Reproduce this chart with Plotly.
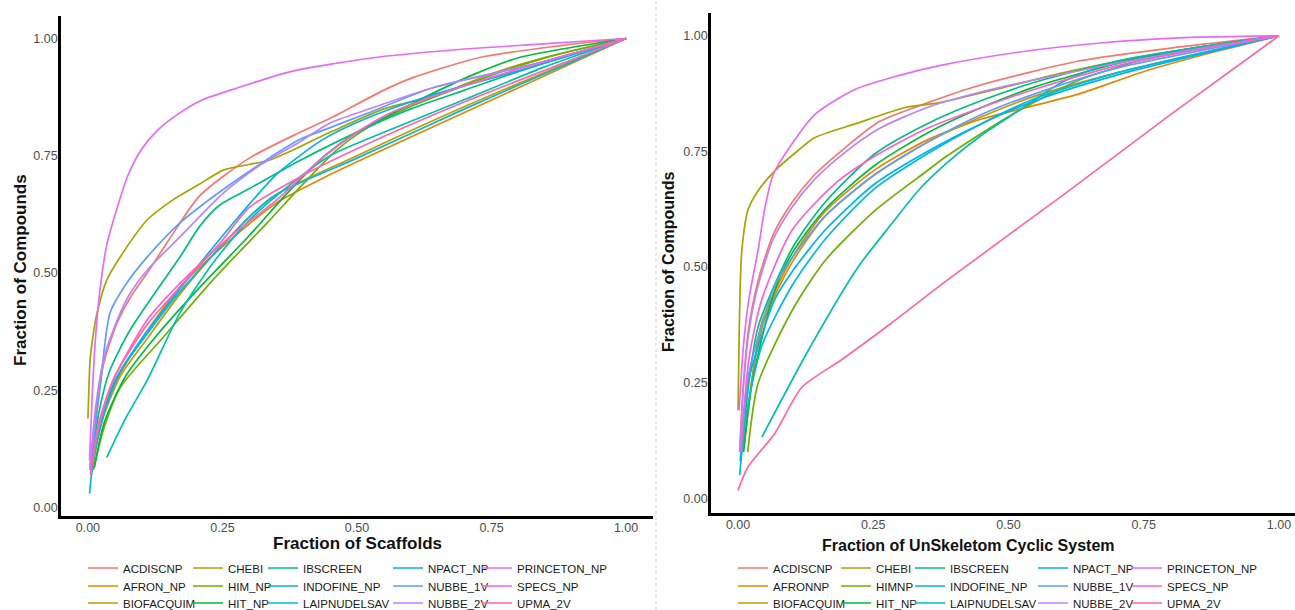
import plotly.graph_objects as go

# ---------------- series names / colours ----------------
names_left = ["ACDISCNP", "AFRON_NP", "BIOFACQUIM", "CHEBI", "HIM_NP", "HIT_NP",
              "IBSCREEN", "INDOFINE_NP", "LAIPNUDELSAV", "NPACT_NP", "NUBBE_1V",
              "NUBBE_2V", "PRINCETON_NP", "SPECS_NP", "UPMA_2V"]
names_right = ["ACDISCNP", "AFRONNP", "BIOFACQUIM", "CHEBI", "HIMNP", "HIT_NP",
               "IBSCREEN", "INDOFINE_NP", "LAIPNUDELSAV", "NPACT_NP", "NUBBE_1V",
               "NUBBE_2V", "PRINCETON_NP", "SPECS_NP", "UPMA_2V"]
colors = ["#F8766D", "#E58700", "#C99800", "#A3A500", "#6BB100", "#00BA38",
          "#00BF7D", "#00C0AF", "#00BCD8", "#00B0F6", "#619CFF", "#B983FF",
          "#E76BF3", "#FD61D1", "#FF67A4"]

tick_vals = [0, 0.25, 0.5, 0.75, 1.0]
tick_text = ["0.00", "0.25", "0.50", "0.75", "1.00"]

# ---------------- left panel: Fraction of Scaffolds ----------------
scaf_ACDISCNP = [(0.004, 0.08), (0.015, 0.2), (0.03, 0.31), (0.054, 0.393), (0.08, 0.45), (0.11, 0.5),
                 (0.15, 0.57), (0.208, 0.665), (0.3, 0.745), (0.394, 0.8), (0.45, 0.83), (0.55, 0.89),
                 (0.6, 0.915), (0.73, 0.96), (0.88, 0.985), (1.0, 1.0)]
scaf_AFRON_NP = [(0.006, 0.07), (0.02, 0.16), (0.047, 0.257), (0.1, 0.36), (0.171, 0.47), (0.264, 0.57),
                 (0.351, 0.65), (0.45, 0.71), (0.6, 0.79), (0.8, 0.895), (1.0, 1.0)]
scaf_BIOFACQUIM = [(0.008, 0.08), (0.025, 0.18), (0.06, 0.28), (0.11, 0.36), (0.171, 0.455), (0.25, 0.56),
                   (0.34, 0.66), (0.5, 0.75), (0.7, 0.855), (1.0, 1.0)]
scaf_CHEBI = [(0.0, 0.19), (0.002, 0.26), (0.004, 0.314), (0.01, 0.37), (0.017, 0.415), (0.035, 0.485),
              (0.065, 0.543), (0.11, 0.613), (0.158, 0.656), (0.208, 0.69), (0.253, 0.72), (0.338, 0.741),
              (0.45, 0.8), (0.55, 0.85), (0.65, 0.88), (0.75, 0.925), (0.85, 0.96), (1.0, 1.0)]
scaf_HIM_NP = [(0.01, 0.08), (0.03, 0.17), (0.06, 0.256), (0.14, 0.363), (0.232, 0.485), (0.333, 0.607),
               (0.4, 0.69), (0.46, 0.76), (0.52, 0.81), (0.6, 0.855), (0.7, 0.9), (0.784, 0.935),
               (0.87, 0.965), (1.0, 1.0)]
scaf_HIT_NP = [(0.012, 0.085), (0.03, 0.18), (0.07, 0.28), (0.13, 0.37), (0.2, 0.46), (0.3, 0.58),
               (0.37, 0.67), (0.44, 0.75), (0.5, 0.8), (0.6, 0.86), (0.716, 0.923), (0.8, 0.959), (1.0, 1.0)]
scaf_IBSCREEN = [(0.005, 0.08), (0.02, 0.2), (0.04, 0.29), (0.078, 0.378), (0.12, 0.45), (0.171, 0.534),
                 (0.208, 0.6), (0.245, 0.645), (0.3, 0.68), (0.394, 0.74), (0.518, 0.81), (0.6, 0.85),
                 (0.7, 0.89), (0.827, 0.94), (1.0, 1.0)]
scaf_INDOFINE_NP = [(0.035, 0.107), (0.07, 0.19), (0.11, 0.271), (0.171, 0.415), (0.232, 0.521),
                    (0.295, 0.607), (0.357, 0.671), (0.45, 0.75), (0.55, 0.8), (0.7, 0.87), (0.85, 0.94),
                    (1.0, 1.0)]
scaf_LAIPNUDELSAV = [(0.003, 0.03), (0.01, 0.1), (0.03, 0.2), (0.06, 0.29), (0.11, 0.37), (0.171, 0.46),
                     (0.25, 0.56), (0.3, 0.62), (0.351, 0.668), (0.5, 0.745), (0.7, 0.85), (0.909, 0.955),
                     (1.0, 1.0)]
scaf_NPACT_NP = [(0.006, 0.07), (0.02, 0.17), (0.05, 0.27), (0.1, 0.36), (0.16, 0.45), (0.208, 0.52),
                 (0.28, 0.62), (0.35, 0.71), (0.437, 0.785), (0.518, 0.83), (0.641, 0.88), (0.827, 0.94),
                 (1.0, 1.0)]
scaf_NUBBE_1V = [(0.004, 0.085), (0.022, 0.25), (0.041, 0.415), (0.07, 0.475), (0.11, 0.534), (0.171, 0.607),
                 (0.232, 0.662), (0.277, 0.699), (0.33, 0.74), (0.394, 0.785), (0.45, 0.81), (0.518, 0.84),
                 (0.641, 0.895), (0.827, 0.945), (1.0, 1.0)]
scaf_NUBBE_2V = [(0.004, 0.09), (0.015, 0.22), (0.03, 0.32), (0.047, 0.378), (0.075, 0.45), (0.11, 0.506),
                 (0.171, 0.577), (0.251, 0.67), (0.32, 0.73), (0.394, 0.78), (0.45, 0.82), (0.518, 0.848),
                 (0.641, 0.895), (0.827, 0.945), (1.0, 1.0)]
scaf_PRINCETON_NP = [(0.003, 0.1), (0.008, 0.24), (0.014, 0.36), (0.022, 0.46), (0.035, 0.56), (0.052, 0.63),
                     (0.075, 0.71), (0.099, 0.763), (0.13, 0.805), (0.16, 0.833), (0.21, 0.868),
                     (0.268, 0.891), (0.375, 0.929), (0.53, 0.959), (0.684, 0.976), (0.838, 0.988), (1.0, 1.0)]
scaf_SPECS_NP = [(0.005, 0.07), (0.02, 0.17), (0.047, 0.271), (0.11, 0.4), (0.171, 0.478), (0.264, 0.577),
                 (0.357, 0.662), (0.43, 0.74), (0.5, 0.8), (0.56, 0.84), (0.65, 0.88), (0.8, 0.935), (1.0, 1.0)]
scaf_UPMA_2V = [(0.005, 0.07), (0.02, 0.18), (0.05, 0.28), (0.11, 0.39), (0.171, 0.47), (0.25, 0.57),
                (0.3, 0.64), (0.394, 0.705), (0.5, 0.765), (0.7, 0.865), (0.9, 0.955), (1.0, 1.0)]

# ---------------- right panel: Fraction of UnSkeletom Cyclic System ----------------
cyc_ACDISCNP = [(0.003, 0.1), (0.01, 0.25), (0.02, 0.37), (0.037, 0.47), (0.065, 0.57), (0.1, 0.64),
                (0.142, 0.7), (0.2, 0.76), (0.262, 0.815), (0.35, 0.855), (0.447, 0.893), (0.632, 0.946),
                (0.817, 0.976), (1.0, 1.0)]
cyc_AFRONNP = [(0.01, 0.1), (0.025, 0.25), (0.044, 0.38), (0.1, 0.52), (0.161, 0.62), (0.253, 0.71),
               (0.35, 0.775), (0.45, 0.82), (0.55, 0.85), (0.632, 0.875), (0.756, 0.925), (0.88, 0.965),
               (1.0, 1.0)]
cyc_BIOFACQUIM = [(0.012, 0.12), (0.03, 0.29), (0.05, 0.39), (0.1, 0.51), (0.161, 0.61), (0.253, 0.7),
                  (0.35, 0.77), (0.45, 0.825), (0.55, 0.87), (0.7, 0.92), (1.0, 1.0)]
cyc_CHEBI = [(0.0, 0.19), (0.002, 0.35), (0.004, 0.46), (0.007, 0.536), (0.018, 0.622), (0.037, 0.665),
             (0.068, 0.708), (0.111, 0.752), (0.142, 0.78), (0.218, 0.81), (0.309, 0.845), (0.37, 0.855),
             (0.49, 0.888), (0.6, 0.92), (0.75, 0.955), (0.88, 0.98), (1.0, 1.0)]
cyc_HIMNP = [(0.018, 0.1), (0.037, 0.248), (0.1, 0.406), (0.161, 0.514), (0.253, 0.622), (0.346, 0.705),
             (0.386, 0.74), (0.508, 0.831), (0.632, 0.905), (0.756, 0.95), (0.88, 0.978), (1.0, 1.0)]
cyc_HIT_NP = [(0.01, 0.1), (0.026, 0.25), (0.068, 0.45), (0.1, 0.53), (0.161, 0.625), (0.253, 0.72),
              (0.35, 0.79), (0.45, 0.845), (0.55, 0.89), (0.7, 0.94), (0.85, 0.975), (1.0, 1.0)]
cyc_IBSCREEN = [(0.008, 0.1), (0.015, 0.2), (0.037, 0.37), (0.1, 0.54), (0.161, 0.64), (0.253, 0.745),
                (0.35, 0.81), (0.45, 0.86), (0.55, 0.9), (0.7, 0.945), (0.85, 0.975), (1.0, 1.0)]
cyc_INDOFINE_NP = [(0.044, 0.132), (0.13, 0.32), (0.222, 0.5), (0.285, 0.595), (0.333, 0.665), (0.386, 0.725),
                   (0.45, 0.785), (0.508, 0.83), (0.6, 0.9), (0.7, 0.945), (0.85, 0.975), (1.0, 1.0)]
cyc_LAIPNUDELSAV = [(0.003, 0.05), (0.015, 0.18), (0.044, 0.33), (0.1, 0.46), (0.161, 0.56), (0.253, 0.67),
                    (0.35, 0.745), (0.45, 0.81), (0.55, 0.865), (0.7, 0.92), (1.0, 1.0)]
cyc_NPACT_NP = [(0.004, 0.08), (0.018, 0.248), (0.068, 0.43), (0.1, 0.49), (0.161, 0.58), (0.253, 0.68),
                (0.35, 0.75), (0.45, 0.81), (0.55, 0.86), (0.7, 0.915), (1.0, 1.0)]
cyc_NUBBE_1V = [(0.006, 0.1), (0.02, 0.27), (0.068, 0.46), (0.1, 0.52), (0.161, 0.61), (0.253, 0.7),
                (0.35, 0.77), (0.45, 0.83), (0.55, 0.875), (0.7, 0.93), (1.0, 1.0)]
cyc_NUBBE_2V = [(0.003, 0.1), (0.01, 0.24), (0.02, 0.36), (0.037, 0.46), (0.065, 0.56), (0.1, 0.63),
                (0.142, 0.69), (0.2, 0.75), (0.262, 0.8), (0.35, 0.845), (0.447, 0.878), (0.632, 0.925),
                (0.817, 0.965), (1.0, 1.0)]
cyc_PRINCETON_NP = [(0.002, 0.19), (0.01, 0.33), (0.02, 0.43), (0.037, 0.536), (0.05, 0.63), (0.065, 0.7),
                    (0.096, 0.76), (0.142, 0.83), (0.218, 0.885), (0.3, 0.915), (0.37, 0.935), (0.521, 0.965),
                    (0.675, 0.985), (0.826, 0.996), (1.0, 1.0)]
cyc_SPECS_NP = [(0.005, 0.1), (0.02, 0.3), (0.044, 0.43), (0.1, 0.58), (0.179, 0.68), (0.253, 0.74),
                (0.35, 0.8), (0.45, 0.845), (0.55, 0.885), (0.7, 0.935), (0.85, 0.97), (1.0, 1.0)]
cyc_UPMA_2V = [(0.0, 0.017), (0.018, 0.067), (0.068, 0.14), (0.118, 0.24), (0.192, 0.3), (0.285, 0.38),
               (0.386, 0.471), (0.6, 0.655), (0.8, 0.83), (1.0, 1.0)]

left_series = [scaf_ACDISCNP, scaf_AFRON_NP, scaf_BIOFACQUIM, scaf_CHEBI, scaf_HIM_NP, scaf_HIT_NP,
               scaf_IBSCREEN, scaf_INDOFINE_NP, scaf_LAIPNUDELSAV, scaf_NPACT_NP, scaf_NUBBE_1V,
               scaf_NUBBE_2V, scaf_PRINCETON_NP, scaf_SPECS_NP, scaf_UPMA_2V]
right_series = [cyc_ACDISCNP, cyc_AFRONNP, cyc_BIOFACQUIM, cyc_CHEBI, cyc_HIMNP, cyc_HIT_NP,
                cyc_IBSCREEN, cyc_INDOFINE_NP, cyc_LAIPNUDELSAV, cyc_NPACT_NP, cyc_NUBBE_1V,
                cyc_NUBBE_2V, cyc_PRINCETON_NP, cyc_SPECS_NP, cyc_UPMA_2V]

# ---------------- layout helpers ----------------
W, H = 1295, 610
FONT = "Liberation Sans, Arial, Helvetica, sans-serif"


def fx(p):
    return p / W


def fy(p):
    return 1 - p / H


# legend placement: 5 columns x 3 rows under each panel (column-major, like ggplot)
legend_text_left = [123, 228, 303, 428, 517]
legend_text_right = [773, 876, 950, 1073, 1167]
legend_rows = [568, 586, 603]

fig = go.Figure()
layout_legends = {}


def legend_id(k):
    return "legend" if k == 0 else f"legend{k + 1}"


def add_panel(names, series, xa, ya, text_cols, offset):
    for i, (nm, pts) in enumerate(zip(names, series)):
        lid = legend_id(offset + i)
        fig.add_trace(go.Scatter(
            x=[p[0] for p in pts], y=[p[1] for p in pts], mode="lines", name=nm,
            line=dict(color=colors[i], width=1.7, shape="spline", smoothing=0.7),
            xaxis=xa, yaxis=ya, legend=lid, showlegend=True, hoverinfo="name"))
        layout_legends[lid] = dict(
            x=fx(text_cols[i // 3] - 40), y=fy(legend_rows[i % 3]), xanchor="left", yanchor="middle",
            orientation="v", bgcolor="rgba(0,0,0,0)", borderwidth=0, itemwidth=30,
            font=dict(family=FONT, size=11.5, color="#1a1a1a"))


add_panel(names_left, left_series, "x", "y", legend_text_left, 0)
add_panel(names_right, right_series, "x2", "y2", legend_text_right, 15)

axis_common = dict(
    showline=True, linecolor="black", linewidth=2.6, showgrid=False, zeroline=False,
    ticks="", tickvals=tick_vals, ticktext=tick_text,
    tickfont=dict(family=FONT, size=12.5, color="#4D4D4D"), fixedrange=True,
)

title_font_l = dict(family=FONT, size=17, color="#111111")
title_font_r = dict(family=FONT, size=16, color="#111111")

layout = dict(
    width=W, height=H, margin=dict(l=0, r=0, t=0, b=0, autoexpand=False),
    paper_bgcolor="white", plot_bgcolor="white", showlegend=True,
    font=dict(family=FONT),
    xaxis=dict(domain=[fx(61), fx(653)], range=[-0.05, 1.05], anchor="y", ticklabelstandoff=-2, **axis_common),
    yaxis=dict(domain=[fy(516), fy(16)], range=[-0.018, 1.048], anchor="x", ticklabelstandoff=-2, **axis_common),
    xaxis2=dict(domain=[fx(711), 1.0], range=[-0.05, 1.0296], anchor="y2", ticklabelstandoff=-2, **axis_common),
    yaxis2=dict(domain=[fy(513), fy(12.7)], range=[-0.032, 1.05], anchor="x2", ticklabelstandoff=-2, **axis_common),
    annotations=[
        dict(text="<b>Fraction of Scaffolds</b>", x=fx(357), y=fy(543), xref="paper", yref="paper",
             xanchor="center", yanchor="middle", showarrow=False, font=title_font_l),
        dict(text="<b>Fraction of Compounds</b>", x=fx(20), y=fy(270), xref="paper", yref="paper",
             xanchor="center", yanchor="middle", showarrow=False, textangle=-90, font=title_font_l),
        dict(text="<b>Fraction of UnSkeletom Cyclic System</b>", x=fx(968), y=fy(545), xref="paper",
             yref="paper", xanchor="center", yanchor="middle", showarrow=False, font=title_font_r),
        dict(text="<b>Fraction of Compounds</b>", x=fx(668), y=fy(262), xref="paper", yref="paper",
             xanchor="center", yanchor="middle", showarrow=False, textangle=-90, font=title_font_r),
    ],
    shapes=[
        dict(type="line", xref="paper", yref="paper", x0=fx(656), x1=fx(656), y0=0, y1=1,
             line=dict(color="#cfcfcf", width=1, dash="dot")),
    ],
)
layout.update(layout_legends)

fig.update_layout(**layout)
fig.write_html(
    "out.html",
    config={"displayModeBar": False},
    post_script="document.body.style.margin='0px';document.body.style.overflow='hidden';",
)
